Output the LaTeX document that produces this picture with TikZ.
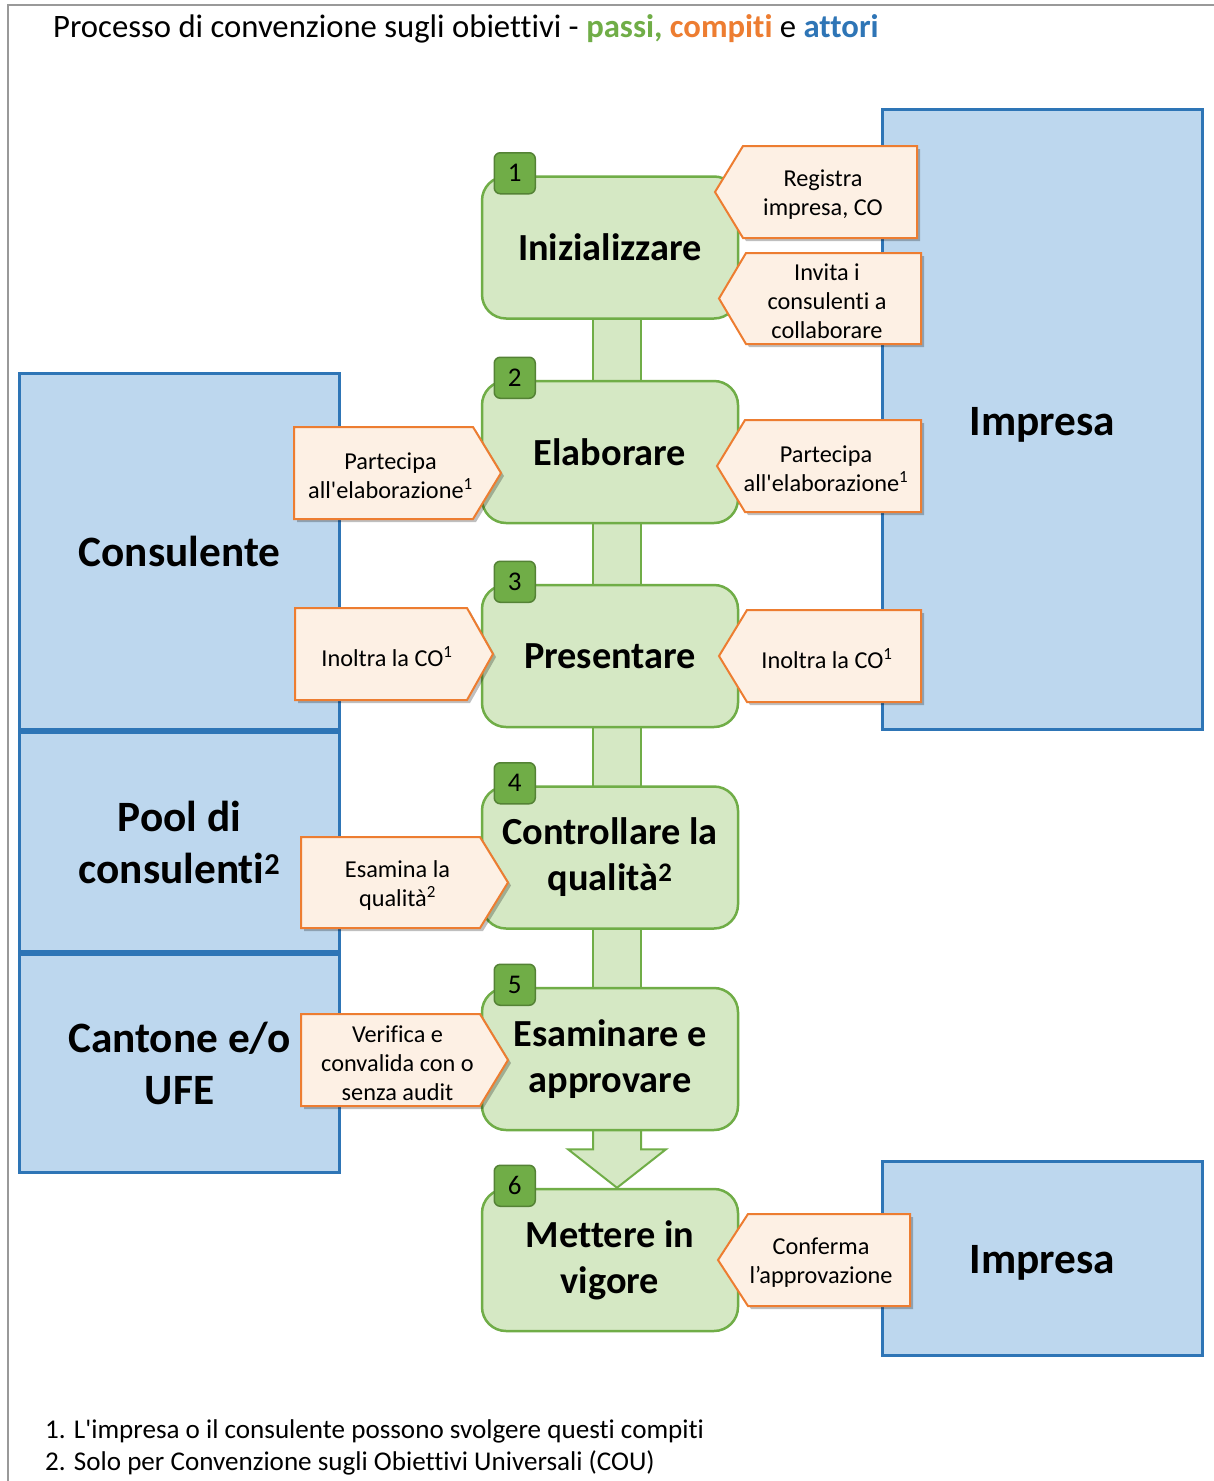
\documentclass[tikz,border=0pt]{standalone}
\usepackage{fontspec}
\setmainfont{Carlito}[Ligatures={TeXOff,NoCommon}]
\usetikzlibrary{shadows,backgrounds,calc}
\definecolor{stepfill}{RGB}{213,232,196}
\definecolor{stepline}{RGB}{112,173,71}
\definecolor{tabfill}{RGB}{112,173,71}
\definecolor{tabline}{RGB}{84,130,53}
\definecolor{taskfill}{RGB}{253,240,228}
\definecolor{taskline}{RGB}{237,125,49}
\definecolor{actfill}{RGB}{189,215,238}
\definecolor{actline}{RGB}{46,117,182}
\newcommand\tasktoleft[6]{%
  \draw[taskshape] (#1,{(#4+#5)/2}) -- (#2,#4) -- (#3,#4) -- (#3,#5) -- (#2,#5) -- cycle;
  \node[tasktext] (#6) at ({(#1+#3)/2+7},{(#4+#5)/2+3})}
\newcommand\tasktoright[6]{%
  \draw[taskshape] (#1,#4) -- (#2,#4) -- (#3,{(#4+#5)/2}) -- (#2,#5) -- (#1,#5) -- cycle;
  \node[tasktext] (#6) at ({(#1+#3)/2-7},{(#4+#5)/2+3})}
\begin{document}
\begin{tikzpicture}[x=1pt,y=-1pt,
  stepbox/.style={draw=stepline, line width=2.5pt, fill=stepfill, rounded corners=24pt,
    minimum width=256pt, minimum height=142pt, inner sep=0pt, align=center,
    font=\fontsize{38.3}{46}\selectfont\bfseries},
  tabbox/.style={draw=tabline, line width=1.5pt, fill=tabfill, rounded corners=6pt,
    minimum size=41pt, inner sep=0pt, font=\fontsize{27}{30}\selectfont},
  actor/.style={draw=actline, line width=3pt, fill=actfill, minimum width=320pt,
    inner sep=0pt, align=center, font=\fontsize{43.3}{52}\selectfont\bfseries},
  taskshape/.style={draw=taskline, line width=2pt, fill=taskfill,
    drop shadow={shadow xshift=3pt, shadow yshift=-3pt, opacity=.25, fill=black}},
  tasktext/.style={align=center, inner sep=0pt, font=\fontsize{24.3}{29}\selectfont},
  bar/.style={draw=stepline, line width=2pt, fill=stepfill, line join=miter}
]
\useasboundingbox (0,0) rectangle (1214,1481);
\draw[gray!80, line width=1.5pt] (8,1481) -- (8,5) -- (1214,5);

% title
\node[anchor=base west, inner sep=0pt, font=\fontsize{32.7}{38}\selectfont] (title) at (53,37)
  {Processo di convenzione sugli obiettivi - \textcolor{stepline}{\bfseries passi,} \textcolor{taskline}{\bfseries compiti} e \textcolor{actline}{\bfseries attori}};

% actors
\node[actor, minimum height=620pt] (imp1) at (1042.5,419.5) {\raisebox{-5pt}[\height][\depth]{Impresa}};
\node[actor, minimum height=356pt] (cons) at (179.5,551.5) {Consulente};
\node[actor, minimum height=219pt] (pool) at (179.5,842) {Pool di\\consulenti\textsuperscript{2}};
\node[actor, minimum height=218pt] (cant) at (179.5,1063.5) {Cantone e/o\\UFE};
\node[actor, minimum height=194pt] (imp2) at (1042.5,1258.5) {\raisebox{-4pt}[\height][\depth]{Impresa}};

% steps
\node[stepbox] (s1) at (610,247.5) {Inizializzare};
\node[stepbox] (s2) at (610,452) {Elaborare};
\node[stepbox] (s3) at (610,656) {Presentare};
\node[stepbox] (s4) at (610,857.5) {Controllare la\\qualità\textsuperscript{2}};
\node[stepbox] (s5) at (610,1059) {Esaminare e\\approvare};
\node[stepbox] (s6) at (610,1260) {Mettere in\\vigore};

% connectors between steps
\begin{pgfonlayer}{background}
\fill[white] (0,0) rectangle (1214,1481);
\foreach \a/\b in {s1/s2,s2/s3,s3/s4,s4/s5}
  \draw[bar] ($(\a.south)+(-17,-12)$) rectangle ($(\b.north)+(31,12)$);
\draw[bar] ($(s5.south)+(-17,-12)$) -- ($(s5.south)+(-17,18)$) -- ($(s5.south)+(-42,18)$)
  -- ($(s6.north)+(7,0)$) -- ($(s5.south)+(56,18)$) -- ($(s5.south)+(31,18)$) -- ($(s5.south)+(31,-12)$);
\end{pgfonlayer}

% number tabs
\foreach \s/\n in {s1/1,s2/2,s3/3,s4/4,s5/5,s6/6}
  \node[tabbox] (t\n) at ($(\s.north west)+(34,-2)$) {\n};

% tasks on the right (pointing left)
\tasktoleft{715}{743}{917}{146}{238}{r1} {Registra\\impresa, CO};
\tasktoleft{719}{746}{921}{253}{344}{r2} {Invita i\\consulenti a\\collaborare};
\tasktoleft{717}{745}{921}{420}{512}{r3} {Partecipa\\all'elaborazione\textsuperscript{1}};
\tasktoleft{719}{747}{921}{610}{702}{r4} {Inoltra la CO\textsuperscript{1}};
\tasktoleft{718}{748}{910}{1214}{1306}{r5} {Conferma\\l’approvazione};

% tasks on the left (pointing right)
\tasktoright{294}{473}{501}{427}{519}{l1} {Partecipa\\all'elaborazione\textsuperscript{1}};
\tasktoright{295}{467}{493}{608}{700}{l2} {Inoltra la CO\textsuperscript{1}};
\tasktoright{301}{480}{508}{837}{928}{l3} {Esamina la\\qualità\textsuperscript{2}};
\tasktoright{301}{480}{508}{1014}{1106}{l4} {Verifica e\\convalida con o\\senza audit};

% footnotes
\node[anchor=base west, inner sep=0pt, font=\fontsize{27.1}{32}\selectfont] (fn1) at (45,1438)
  {1. L'impresa o il consulente possono svolgere questi compiti};
\node[anchor=base west, inner sep=0pt, font=\fontsize{27.1}{32}\selectfont] (fn2) at (45,1470)
  {2. Solo per Convenzione sugli Obiettivi Universali (COU)};
\end{tikzpicture}
\end{document}
